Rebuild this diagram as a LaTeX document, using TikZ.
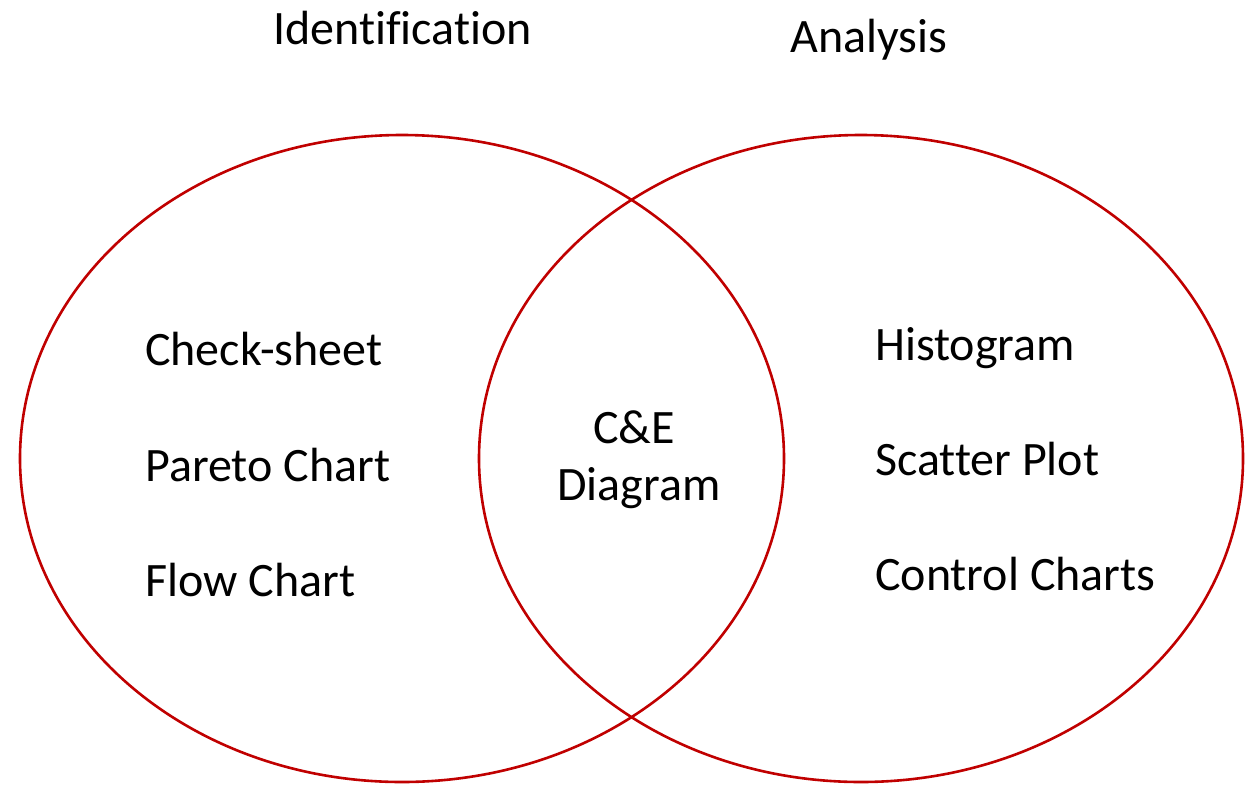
\documentclass[tikz,border=0pt]{standalone}
\usepackage{fontspec}
\setmainfont[Ligatures=NoCommon]{Carlito}
\definecolor{vennred}{HTML}{C00000}
\begin{document}
\begin{tikzpicture}[x=1pt,y=-1pt,
  ring/.style={draw=vennred,line width=2.6pt},
  lbl/.style={anchor=base west,inner sep=0pt,font=\fontsize{48}{57}\selectfont},
  mid/.style={anchor=base,inner sep=0pt,font=\fontsize{48}{57}\selectfont}]
\useasboundingbox (0,0) rectangle (1255,785);
\draw[ring] (402,458.5) ellipse [x radius=382, y radius=323.5];
\draw[ring] (861,458.5) ellipse [x radius=382, y radius=323.5];
\node[lbl] (ident) at (273,44) {Identification};
\node[lbl] (anal) at (790,52) {Analysis};
\node[lbl] (check) at (145,365) {Check-sheet};
\node[lbl] (pareto) at (145,481) {Pareto Chart};
\node[lbl] (flow) at (145,596) {Flow Chart};
\node[lbl] (hist) at (875,360) {Histogram};
\node[lbl] (scat) at (875,475) {Scatter Plot};
\node[lbl] (ctrl) at (875,590) {Control Charts};
\node[mid] (ce) at (634,443) {C\&E};
\node[mid] (diag) at (639,500) {Diagram};
\end{tikzpicture}
\end{document}
